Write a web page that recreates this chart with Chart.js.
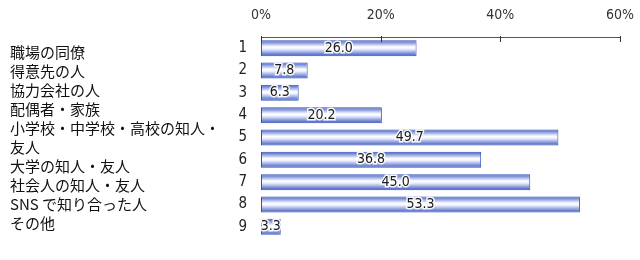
<!DOCTYPE html>
<html>
<head>
<meta charset="utf-8">
<script src="https://cdn.jsdelivr.net/npm/chart.js@4"></script>
<style>
  html, body { margin:0; padding:0; background:#fff; }
  #wrap { width:640px; height:260px; position:relative; }
</style>
</head>
<body>
<div id="wrap"><canvas id="chart"></canvas></div>
<script>
// datos
const categorias = [
  '職場の同僚',
  '得意先の人',
  '協力会社の人',
  '配偶者・家族',
  ['小学校・中学校・高校の知人・', '友人'],
  '大学の知人・友人',
  '社会人の知人・友人',
  'SNS で知り合った人',
  'その他'
];
const numeros = ['1','2','3','4','5','6','7','8','9'];
const valores = [26.0, 7.8, 6.3, 20.2, 49.7, 36.8, 45.0, 53.3, 3.3];
const ticksX = [0, 20, 40, 60];

// la lista de nombres va como bloque de texto, una línea por tick
const lineas = categorias.flat();
const nomMin = -0.29, nomMax = lineas.length - 0.76;

const fuenteNum = '"Liberation Sans Narrow", "DejaVu Sans Condensed", sans-serif';
const fuenteJp = '"Noto Sans CJK JP", sans-serif';

function gradiente(ctx){
  const chart = ctx.chart;
  if (!chart.chartArea || !chart.scales.y) return '#6f86d6';
  const y = chart.scales.y.getPixelForValue(ctx.dataIndex);
  const h = 16;
  const g = chart.ctx.createLinearGradient(0, y - h/2, 0, y + h/2);
  g.addColorStop(0, '#3f5cc6');
  g.addColorStop(0.42, '#ffffff');
  g.addColorStop(0.55, '#eef1ff');
  g.addColorStop(1, '#3a56c0');
  return g;
}

// etiquetas de valor en el centro de la barra
const etiquetas = {
  id: 'etiquetas',
  afterDatasetsDraw(chart){
    const c = chart.ctx;
    const meta = chart.getDatasetMeta(0);
    c.save();
    c.font = '14px ' + fuenteNum;
    c.textAlign = 'center';
    c.textBaseline = 'middle';
    meta.data.forEach((bar, i) => {
      const x = (bar.x + bar.base) / 2;
      const txt = valores[i].toFixed(1);
      c.lineWidth = 3;
      c.strokeStyle = 'rgba(255,255,255,0.9)';
      c.strokeText(txt, x, bar.y);
      c.fillStyle = '#1a1a1a';
      c.fillText(txt, x, bar.y);
    });
    c.restore();
  }
};

// marcas cortas bajo el eje superior
const marcas = {
  id: 'marcas',
  afterDraw(chart){
    const c = chart.ctx;
    const sx = chart.scales.x;
    const top = chart.chartArea.top;
    c.save();
    c.strokeStyle = '#333';
    c.lineWidth = 1;
    ticksX.forEach(v => {
      const x = Math.round(sx.getPixelForValue(v)) + 0.5;
      c.beginPath();
      c.moveTo(x, top - 1);
      c.lineTo(x, top + 5);
      c.stroke();
    });
    c.restore();
  }
};

new Chart(document.getElementById('chart'), {
  type: 'bar',
  data: {
    labels: numeros,
    datasets: [{
      data: valores,
      backgroundColor: gradiente,
      borderColor: '#3350b8',
      borderWidth: 1,
      borderSkipped: false,
      barPercentage: 0.8,
      categoryPercentage: 0.9
    }]
  },
  options: {
    indexAxis: 'y',
    responsive: true,
    maintainAspectRatio: false,
    animation: false,
    layout: { padding: { left: 10, right: 20, top: 5, bottom: 22 } },
    plugins: { legend: { display: false }, tooltip: { enabled: false } },
    scales: {
      x: {
        position: 'top',
        min: 0, max: 60,
        afterBuildTicks: (s) => { s.ticks = ticksX.map(v => ({ value: v })); },
        grid: { display: false, drawTicks: false },
        border: { display: true, color: '#555', width: 1 },
        ticks: {
          maxRotation: 0,
          callback: v => v + '%',
          color: '#333',
          padding: 13,
          font: { family: fuenteNum, size: 14 }
        },
        afterFit: s => { s.height = 32; s.paddingLeft = 0; s.paddingRight = 0; }
      },
      y: {
        position: 'left',
        weight: 0,
        grid: { display: false, drawTicks: false },
        border: { display: false },
        ticks: {
          autoSkip: false,
          color: '#222',
          padding: 14,
          font: { family: fuenteNum, size: 15 }
        },
        afterFit: s => { s.width = 28; s.paddingTop = 0; s.paddingBottom = 0; }
      },
      nombres: {
        type: 'linear',
        position: 'left',
        weight: 1,
        reverse: true,
        bounds: 'data',
        min: nomMin,
        max: nomMax,
        afterDataLimits: (s) => { s.min = nomMin; s.max = nomMax; },
        afterBuildTicks: (s) => {
          s.ticks = lineas.map((t, i) => ({ value: i }));
          s.min = nomMin; s.max = nomMax;
        },
        grid: { display: false, drawTicks: false },
        border: { display: false },
        ticks: {
          autoSkip: false,
          crossAlign: 'far',
          color: '#111',
          padding: 0,
          callback: (v) => lineas[v],
          font: { family: fuenteJp, size: 15 }
        },
        afterFit: s => { s.width = 223; s.paddingTop = 0; s.paddingBottom = 0; }
      }
    }
  },
  plugins: [etiquetas, marcas]
});
</script>
</body>
</html>
